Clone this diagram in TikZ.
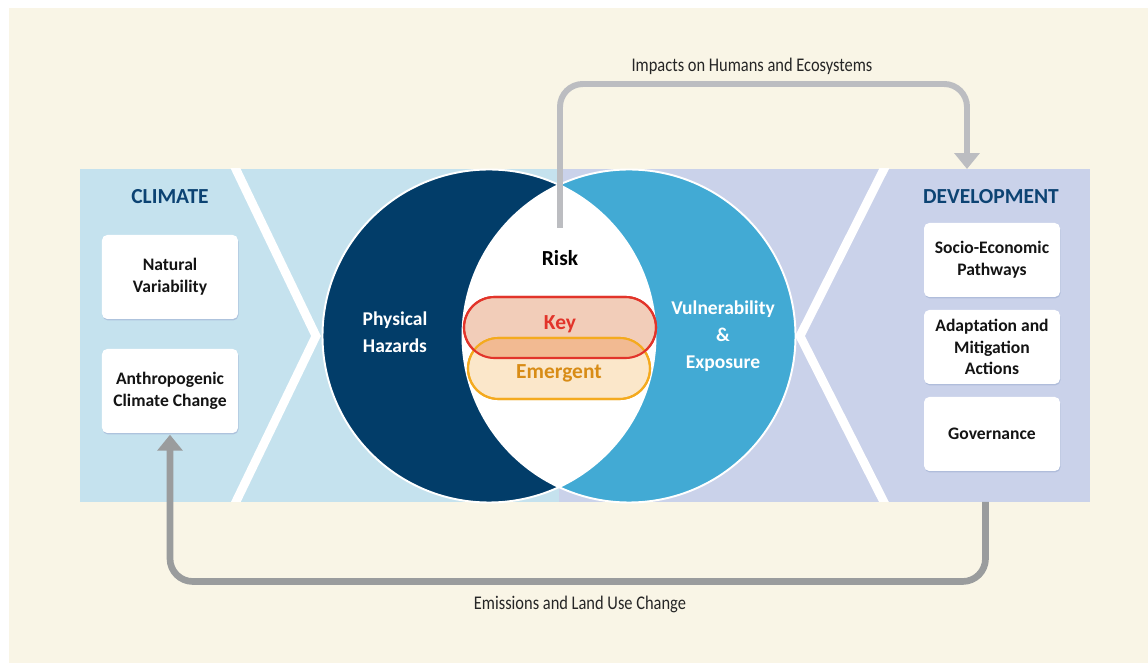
\documentclass[tikz,border=0pt]{standalone}
\usepackage{fontspec}
\setmainfont{Carlito}
\newfontfamily\condensedfont{Carlito}[FakeStretch=0.85]
\usepackage{tikz}
\usetikzlibrary{calc}
\usetikzlibrary{arrows.meta}
\usetikzlibrary{positioning}
\usetikzlibrary{shadows}
\definecolor{cream}{RGB}{249, 245, 230}
\definecolor{climateblue}{RGB}{197, 226, 238}
\definecolor{devlavender}{RGB}{202, 210, 234}
\definecolor{hazardnavy}{RGB}{2, 61, 105}
\definecolor{vulncyan}{RGB}{66, 170, 212}
\definecolor{titleblue}{RGB}{12, 67, 115}
\definecolor{boxtext}{RGB}{20, 20, 20}
\definecolor{boxshadow}{RGB}{160, 175, 210}
\definecolor{keyred}{RGB}{226, 52, 42}
\definecolor{keyfill}{RGB}{242, 205, 185}
\definecolor{emergentorange}{RGB}{244, 170, 30}
\definecolor{emergenttext}{RGB}{216, 140, 22}
\definecolor{emergentfill}{RGB}{251, 231, 202}
\definecolor{overlapfill}{RGB}{242, 186, 146}
\definecolor{impactgrey}{RGB}{188, 189, 193}
\definecolor{emissiongrey}{RGB}{154, 156, 157}

\begin{document}
\begin{tikzpicture}[
        every node/.style={inner sep=0pt, outer sep=0pt},
        paneltitle/.style={text=titleblue, font=\fontsize{12.2}{14}\selectfont\bfseries},
        factorbox/.style={fill=white, rounded corners=3pt, minimum width=2.72cm, align=center, text=boxtext,
                          font=\fontsize{10}{12.3}\selectfont\bfseries,
                          drop shadow={shadow xshift=0.3pt, shadow yshift=-0.8pt, fill=boxshadow, opacity=0.6}},
        circlelabel/.style={text=white, align=center, font=\fontsize{11.1}{15.2}\selectfont\bfseries},
        risklabel/.style={text=black, font=\fontsize{12.2}{14}\selectfont\bfseries},
        riskpill/.style={rounded corners=0.61cm, minimum height=1.22cm, line width=1.2pt},
        flowlabel/.style={text=black!85, font=\condensedfont\fontsize{11}{13}\selectfont},
        chevron/.style={white, line width=5pt, line join=miter},
        flowarrow/.style={rounded corners=13pt, shorten >=1pt, -{Triangle[width=14pt, length=9pt]}},
    ]
            % Page & background
            \useasboundingbox                                                 (-11.18, 6.72) rectangle (11.78,-6.54);
            \fill[white]                                                      (-11.18, 6.72) rectangle (11.78,-6.54);
            \fill[cream]                                                      (-11.00, 6.56) rectangle (11.78,-6.54);
            % Climate & development bands
            \fill[climateblue]                                                (-9.58, 3.34) rectangle ( 0.00,-3.32);
            \fill[devlavender]                                                ( 0.00, 3.34) rectangle (10.62,-3.32);
            \begin{scope}
                \clip                                                         (-9.58, 3.34) rectangle (10.62,-3.32);
                \draw[chevron]                                                (-6.56, 3.54) -- (-4.86, 0.00) -- (-6.56,-3.52);
                \draw[chevron]                                                ( 6.60, 3.54) -- ( 4.82, 0.00) -- ( 6.60,-3.52);
            \end{scope}
            % Hazard & vulnerability circles
            \coordinate (hazard) at (-1.40, 0.00);
            \coordinate (vuln)   at ( 1.40, 0.00);
            \fill[hazardnavy]                                                 (hazard) circle (3.33);
            \fill[vulncyan]                                                   (vuln)   circle (3.33);
            \begin{scope}
                \clip                                                         (hazard) circle (3.33);
                \fill[white]                                                  (vuln)   circle (3.33);
            \end{scope}
            \draw[white, line width=1.1pt]                                    (hazard) circle (3.33);
            \draw[white, line width=1.1pt]                                    (vuln)   circle (3.33);
            \node[circlelabel] (hazard-label) at (-3.28, 0.08) {Physical\\Hazards};
            \node[circlelabel] (vuln-label)   at ( 3.28, 0.00) {Vulnerability\\\&\\Exposure};
            \node[risklabel]   (risk)         at ( 0.02, 1.56) {Risk};
            % Key & emergent risk
            \node[riskpill, minimum width=3.84cm, fill=keyfill, draw=keyred]              (key-pill)      at ( 0.02, 0.17) {};
            \node[riskpill, minimum width=3.64cm, fill=emergentfill, draw=emergentorange] (emergent-pill) at ( 0.00,-0.65) {};
            \begin{scope}
                \clip[rounded corners=0.61cm]                                 (key-pill.south west) rectangle (key-pill.north east);
                \fill[overlapfill, rounded corners=0.61cm]                    (emergent-pill.south west) rectangle (emergent-pill.north east);
            \end{scope}
            \draw[emergentorange, line width=1.2pt, rounded corners=0.61cm]   (emergent-pill.south west) rectangle (emergent-pill.north east);
            \draw[keyred, line width=1.2pt, rounded corners=0.61cm]           (key-pill.south west) rectangle (key-pill.north east);
            \node[risklabel, text=keyred]       (key)      at ( 0.02, 0.24) {Key};
            \node[risklabel, text=emergenttext] (emergent) at ( 0.00,-0.74) {Emergent};
            % Climate side
            \node[paneltitle] (climate) at (-7.78, 2.78) {CLIMATE};
            \node[factorbox, minimum height=1.68cm] (natural) at (-7.78, 1.18) {Natural\\Variability};
            \node[factorbox, minimum height=1.68cm, below=0.60cm of natural] (anthro) {Anthropogenic\\Climate Change};
            % Development side
            \node[paneltitle] (development) at ( 8.64, 2.78) {DEVELOPMENT};
            \node[factorbox, minimum height=1.48cm] (socio) at ( 8.66, 1.52) {Socio-Economic\\Pathways};
            \node[factorbox, minimum height=1.48cm, below=0.26cm of socio] (adapt) {Adaptation and\\Mitigation\\Actions};
            \node[factorbox, minimum height=1.48cm, below=0.26cm of adapt] (govern) {Governance};
            % Impacts loop
            \coordinate (impact-start)  at ( 0.02, 2.16);
            \coordinate (impact-corner) at ( 8.16, 5.04);
            \coordinate (impact-end)    at ( 8.16, 3.34);
            \draw[flowarrow, draw=impactgrey, line width=3.4pt, shorten >=0pt] (impact-start) |- (impact-corner) -- (impact-end);
            \node[flowlabel] (impact-label) at ( 3.86, 5.40) {Impacts on Humans and Ecosystems};
            % Emissions loop
            \coordinate (emission-start)  at ( 8.53,-3.32);
            \coordinate (emission-corner) at ( 8.53,-4.91);
            \draw[flowarrow, draw=emissiongrey, line width=3.8pt] (emission-start) -- (emission-corner) -| (anthro.south);
            \node[flowlabel] (emission-label) at ( 0.42,-5.36) {Emissions and Land Use Change};
\end{tikzpicture}
\end{document}
